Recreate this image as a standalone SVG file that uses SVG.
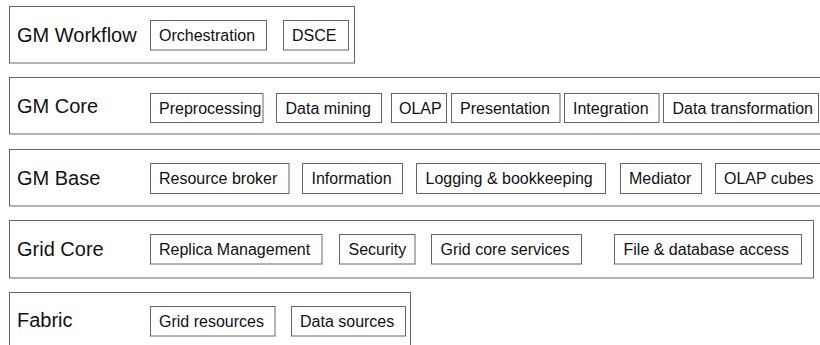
<svg xmlns="http://www.w3.org/2000/svg" width="820" height="345" viewBox="0 0 820 345">
<style>
.layer{fill:#fff;stroke:#666;stroke-width:1}
.comp{fill:#fff;stroke:#666;stroke-width:1}
.lbl{font-family:"Liberation Sans",Arial,sans-serif;font-size:20px;fill:#111}
.ct{font-family:"Liberation Sans",Arial,sans-serif;font-size:16px;fill:#111}
</style>
<rect width="820" height="345" fill="#fff"/>
<g id="gm-workflow">
<rect class="layer" x="9.5" y="6.5" width="345" height="56.5"/>
<text class="lbl" x="17" y="42">GM Workflow</text>
<g id="orchestration"><rect class="comp" x="150.5" y="20.5" width="116" height="29.5"/><text class="ct" x="159" y="41">Orchestration</text></g>
<g id="dsce"><rect class="comp" x="283.5" y="20.5" width="65" height="29.5"/><text class="ct" x="292" y="41">DSCE</text></g>
</g>
<g id="gm-core">
<rect class="layer" x="9.5" y="77.5" width="830" height="56.5"/>
<text class="lbl" x="17" y="113">GM Core</text>
<g id="preprocessing"><rect class="comp" x="150.5" y="93.5" width="112.5" height="29"/><text class="ct" x="159" y="113.5">Preprocessing</text></g>
<g id="data-mining"><rect class="comp" x="276.5" y="93.5" width="105" height="29"/><text class="ct" x="285.5" y="113.5">Data mining</text></g>
<g id="olap"><rect class="comp" x="391.5" y="93.5" width="55" height="29"/><text class="ct" x="399" y="113.5">OLAP</text></g>
<g id="presentation"><rect class="comp" x="451.5" y="93.5" width="108.5" height="29"/><text class="ct" x="460" y="113.5">Presentation</text></g>
<g id="integration"><rect class="comp" x="564.5" y="93.5" width="94.5" height="29"/><text class="ct" x="573" y="113.5">Integration</text></g>
<g id="data-transformation"><rect class="comp" x="663.5" y="93.5" width="155" height="29"/><text class="ct" x="672.5" y="113.5">Data transformation</text></g>
</g>
<g id="gm-base">
<rect class="layer" x="9.5" y="149.5" width="830" height="56.5"/>
<text class="lbl" x="17" y="184.5">GM Base</text>
<g id="resource-broker"><rect class="comp" x="150.5" y="163.5" width="138.5" height="30"/><text class="ct" x="159" y="184">Resource broker</text></g>
<g id="information"><rect class="comp" x="302.5" y="163.5" width="100" height="30"/><text class="ct" x="311.5" y="184">Information</text></g>
<g id="logging"><rect class="comp" x="416.5" y="163.5" width="189" height="30"/><text class="ct" x="425.5" y="184">Logging &amp; bookkeeping</text></g>
<g id="mediator"><rect class="comp" x="620.5" y="163.5" width="81" height="30"/><text class="ct" x="629" y="184">Mediator</text></g>
<g id="olap-cubes"><rect class="comp" x="715.5" y="163.5" width="120" height="30"/><text class="ct" x="724" y="184">OLAP cubes</text></g>
</g>
<g id="grid-core">
<rect class="layer" x="9.5" y="220.5" width="804" height="57.5"/>
<text class="lbl" x="17" y="256">Grid Core</text>
<g id="replica"><rect class="comp" x="150.5" y="234.5" width="171.5" height="29.5"/><text class="ct" x="159" y="255">Replica Management</text></g>
<g id="security"><rect class="comp" x="339.5" y="234.5" width="75.5" height="29.5"/><text class="ct" x="348.5" y="255">Security</text></g>
<g id="grid-core-services"><rect class="comp" x="431.5" y="234.5" width="150" height="29.5"/><text class="ct" x="440.5" y="255">Grid core services</text></g>
<g id="file-db"><rect class="comp" x="614.5" y="234.5" width="187" height="29.5"/><text class="ct" x="623.5" y="255">File &amp; database access</text></g>
</g>
<g id="fabric">
<rect class="layer" x="9.5" y="292.5" width="401" height="70"/>
<text class="lbl" x="17" y="327">Fabric</text>
<g id="grid-resources"><rect class="comp" x="150.5" y="306.5" width="124.5" height="29.5"/><text class="ct" x="159" y="327">Grid resources</text></g>
<g id="data-sources"><rect class="comp" x="291.5" y="306.5" width="114" height="29.5"/><text class="ct" x="300" y="327">Data sources</text></g>
</g>
<g id="connectors"></g>
</svg>
